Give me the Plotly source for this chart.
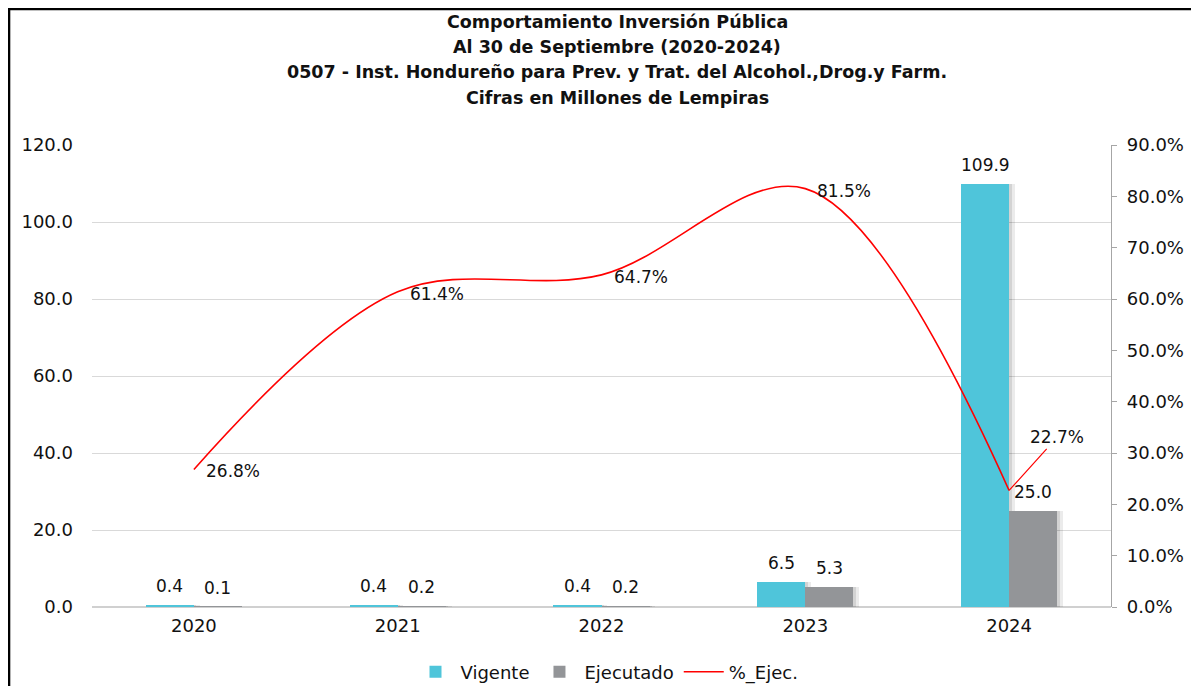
import plotly.graph_objects as go

years = ["2020", "2021", "2022", "2023", "2024"]
vigente = [0.4, 0.4, 0.4, 6.5, 109.9]
ejecutado = [0.1, 0.2, 0.2, 5.3, 25.0]
pct_ejec = [0.268, 0.614, 0.647, 0.815, 0.227]
title_lines = [
    "Comportamiento Inversión Pública",
    "Al 30 de Septiembre (2020-2024)",
    "0507 - Inst. Hondureño para Prev. y Trat. del Alcohol.,Drog.y Farm.",
    "Cifras en Millones de Lempiras",
]

C_VIG = "#4FC5DA"
C_EJE = "#939598"
C_RED = "#FF0000"
FONT = "DejaVu Sans"
TFONT = "DejaVu Sans"

# the page body has an 8px margin: figure drawn in page coords minus 8
OFF = 8
W, H = 1199 - 2 * OFF, 694 - 2 * OFF
L = 92 - OFF
T = 145 - OFF
R = W - (1111 - OFF)
B = H - (607 - OFF)
PW, PH = W - L - R, H - T - B


def px_x(page_x):
    return (page_x - OFF - L) / PW


def px_y(page_y):
    return (H - B - (page_y - OFF)) / PH


BW = 0.236

fig = go.Figure()

# soft shadows (two layers to fake a blur)
for sh, a in [(0.012, 0.10), (0.028, 0.08)]:
    fig.add_trace(go.Bar(x=years, y=vigente, width=BW, offset=-BW + sh,
                         marker=dict(color=f"rgba(0,0,0,{a})", line=dict(width=0)),
                         showlegend=False, hoverinfo="skip"))
    fig.add_trace(go.Bar(x=years, y=ejecutado, width=BW, offset=sh,
                         marker=dict(color=f"rgba(0,0,0,{a})", line=dict(width=0)),
                         showlegend=False, hoverinfo="skip"))

fig.add_trace(go.Bar(x=years, y=vigente, name="Vigente", width=BW, offset=-BW,
                     marker=dict(color=C_VIG, line=dict(width=0))))
fig.add_trace(go.Bar(x=years, y=ejecutado, name="Ejecutado", width=BW, offset=0,
                     marker=dict(color=C_EJE, line=dict(width=0))))
fig.add_trace(go.Scatter(x=years, y=pct_ejec, name="%_Ejec.", yaxis="y2",
                         mode="lines", line=dict(color=C_RED, width=1.6,
                                                 shape="spline", smoothing=1.0)))

ann = []
lbl_font = dict(family=FONT, size=17, color="#111")
for i in range(len(years)):
    ann.append(dict(x=i, y=vigente[i], xref="x", yref="y", text=f"{vigente[i]:.1f}",
                    showarrow=False, xshift=-24, yshift=19, yanchor="middle",
                    font=lbl_font))
    ann.append(dict(x=i, y=ejecutado[i], xref="x", yref="y", text=f"{ejecutado[i]:.1f}",
                    showarrow=False, xshift=24, yshift=19, yanchor="middle",
                    font=lbl_font))
for i in range(len(years) - 1):
    ann.append(dict(x=i, y=pct_ejec[i], xref="x", yref="y2",
                    text=f"{pct_ejec[i]*100:.1f}%", showarrow=False,
                    xanchor="left", yanchor="middle", xshift=10, yshift=-2,
                    font=lbl_font))
last = len(years) - 1
ann.append(dict(x=last, y=pct_ejec[last], xref="x", yref="y2",
                text=f"{pct_ejec[last]*100:.1f}%", showarrow=True, arrowhead=0,
                arrowwidth=1.2, arrowcolor=C_RED, ax=48, ay=-53, font=lbl_font))
for txt, py in zip(title_lines, [22, 47, 72, 98]):
    ann.append(dict(xref="paper", yref="paper", x=px_x(617), y=px_y(py),
                    text=txt, showarrow=False, xanchor="center", yanchor="middle",
                    font=dict(family=TFONT, size=17.5, color="#111", weight="bold")))

fig.update_layout(
    width=W, height=H,
    margin=dict(l=L, r=R, t=T, b=B, autoexpand=False),
    paper_bgcolor="white", plot_bgcolor="white",
    barmode="overlay", bargap=0,
    font=dict(family=FONT, size=17, color="#111"),
    annotations=ann,
    showlegend=True,
    legend=dict(orientation="h", x=px_x(607), xanchor="center",
                y=px_y(672), yanchor="middle",
                font=dict(family=FONT, size=18, color="#111"),
                itemwidth=40),
    xaxis=dict(type="category", range=[-0.5, 4.5], showgrid=False, showline=False,
               ticks="", tickfont=dict(family=FONT, size=18, color="#111"),
               ticklabelstandoff=6),
    yaxis=dict(range=[0, 120], dtick=20, tickformat=".1f", showgrid=True,
               gridcolor="#D9D9D9", gridwidth=1.3, zeroline=True,
               zerolinecolor="#D0D0D0", zerolinewidth=2, showline=False,
               ticks="", tickfont=dict(family=FONT, size=18, color="#111"),
               ticklabelstandoff=18),
    yaxis2=dict(range=[0, 0.9], dtick=0.1, tickformat=".1%", overlaying="y",
                side="right", showgrid=False, zeroline=False, showline=True,
                linecolor="#A6A6A6", linewidth=1.3, ticks="outside", ticklen=5,
                tickcolor="#A6A6A6", tickfont=dict(family=FONT, size=18, color="#111"),
                ticklabelstandoff=6),
    shapes=[dict(type="rect", xref="paper", yref="paper",
                 x0=(0.8 - L) / PW, x1=(W + 40 - L) / PW,
                 y0=(-(40 + B)) / PH, y1=(H - B - 0.8) / PH,
                 line=dict(color="black", width=3), fillcolor="rgba(0,0,0,0)",
                 layer="above")],
)

fig.write_html("out.html")
